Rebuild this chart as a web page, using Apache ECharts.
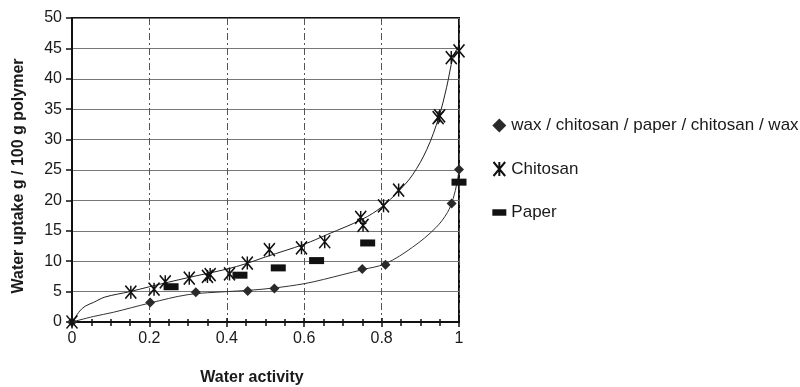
<!DOCTYPE html>
<html>
<head>
<meta charset="utf-8">
<script src="https://cdn.jsdelivr.net/npm/echarts@6/dist/echarts.min.js"></script>
<style>
html,body{margin:0;padding:0;background:#fff;}
#c{width:800px;height:387px;}
</style>
</head>
<body>
<div id="c"></div>
<script>
// ---- data ----
var seriesNames = ['wax / chitosan / paper / chitosan / wax', 'Chitosan', 'Paper'];
var xTicks = [0, 0.2, 0.4, 0.6, 0.8, 1];
var yTicks = [0, 5, 10, 15, 20, 25, 30, 35, 40, 45, 50];

var waxPoints = [[0,0],[0.202,3.2],[0.32,4.9],[0.454,5.1],[0.523,5.5],[0.75,8.7],[0.81,9.4],[0.981,19.5],[1.0,25.1]];
var chitosanPoints = [[0,0],[0.152,4.9],[0.212,5.4],[0.241,6.6],[0.303,7.2],[0.350,7.5],[0.357,7.8],[0.407,7.9],[0.453,9.7],[0.510,11.9],[0.593,12.2],[0.653,13.2],[0.746,17.2],[0.752,15.9],[0.805,19.1],[0.844,21.7],[0.946,33.6],[0.950,33.9],[0.980,43.5],[1.0,44.6]];
var paperPoints = [[0.256,5.8],[0.434,7.7],[0.533,8.9],[0.632,10.1],[0.764,13.0],[1.0,23.0]];

// fitted curves
var chitosanFit = [[0,0],[0.02,1.8],[0.034,2.6],[0.055,3.2],[0.085,4.1],[0.15,5.0],[0.2,5.8],[0.3,7.3],[0.4,8.7],[0.45,9.6],[0.5,10.7],[0.6,12.8],[0.66,14.4],[0.75,16.9],[0.8,18.9],[0.845,21.6],[0.88,24.2],[0.917,28.4],[0.948,33.7],[0.968,38.6],[0.985,43.6],[1.0,45.5]];
var waxFit = [[0,0],[0.055,0.9],[0.107,1.6],[0.2,3.1],[0.3,4.5],[0.4,5.0],[0.454,5.2],[0.523,5.6],[0.6,6.3],[0.65,7.0],[0.7,7.8],[0.75,8.6],[0.81,9.6],[0.88,12.3],[0.94,15.5],[0.97,18.0],[0.985,20.3],[0.995,23.0],[1.0,25.0]];

var asterisk = 'path://M0,0L10,12M10,0L0,12M5,0L5,12';
var paperIcon = 'path://M0,0L13,0L13,6L0,6Z';

var chart = echarts.init(document.getElementById('c'), null, {renderer: 'canvas'});
var FONT = 'Liberation Sans, Arial, sans-serif';

chart.setOption({
  animation: false,
  backgroundColor: '#fff',
  grid: {left: 72, right: 341, top: 18, bottom: 65, show: true, borderColor: '#111', borderWidth: 2, backgroundColor: 'transparent'},
  legend: {
    orient: 'vertical', left: 486, top: 112, itemWidth: 14, itemHeight: 14, itemGap: 25.5, itemTextGap: 6,
    textStyle: {fontFamily: FONT, fontSize: 17, color: '#1a1a1a'},
    data: [
      {name: seriesNames[0], icon: 'diamond'},
      {name: seriesNames[1], icon: asterisk},
      {name: seriesNames[2], icon: paperIcon}
    ]
  },
  xAxis: [{
    type: 'value', min: xTicks[0], max: xTicks[xTicks.length - 1], interval: 0.2,
    axisLine: {show: true, onZero: false, lineStyle: {color: '#111', width: 2}},
    axisTick: {show: true, inside: false, length: 5, lineStyle: {color: '#111', width: 1.5}},
    minorTick: {show: true, splitNumber: 4, length: 4, lineStyle: {color: '#111', width: 1.5}},
    axisLabel: {margin: 9, fontFamily: FONT, fontSize: 16, color: '#1a1a1a'},
    splitLine: {show: true, lineStyle: {color: '#555', width: 1, type: [7, 3, 2, 3]}}
  }, {
    type: 'value', min: xTicks[0], max: xTicks[xTicks.length - 1], interval: 0.2, position: 'bottom',
    axisLine: {show: false},
    axisTick: {show: true, inside: true, length: 4, lineStyle: {color: '#111', width: 1.5}},
    minorTick: {show: true, splitNumber: 4, length: 3, lineStyle: {color: '#111', width: 1.5}},
    axisLabel: {show: false}, splitLine: {show: false}
  }],
  yAxis: {
    type: 'value', min: yTicks[0], max: yTicks[yTicks.length - 1], interval: 5,
    axisLine: {show: true, onZero: false, lineStyle: {color: '#111', width: 2}},
    axisTick: {show: true, inside: false, length: 6, lineStyle: {color: '#111', width: 1.5}},
    axisLabel: {margin: 10, fontFamily: FONT, fontSize: 16, color: '#1a1a1a'},
    splitLine: {show: true, lineStyle: {color: '#777', width: 1}}
  },
  graphic: [
    {type: 'text', x: 19, y: 176, rotation: Math.PI / 2, style: {text: 'Water uptake g / 100 g polymer', font: 'bold 16px Liberation Sans, Arial, sans-serif', fill: '#1a1a1a', align: 'center', verticalAlign: 'middle'}},
    {type: 'text', x: 252, y: 378, style: {text: 'Water activity', font: 'bold 16px Liberation Sans, Arial, sans-serif', fill: '#1a1a1a', align: 'center', verticalAlign: 'middle'}}
  ],
  series: [
    {name: 'chitosanFit', type: 'line', data: chitosanFit, smooth: 0.35, showSymbol: false, silent: true, z: 2,
     lineStyle: {color: '#222', width: 1}},
    {name: 'waxFit', type: 'line', data: waxFit, smooth: 0.35, showSymbol: false, silent: true, z: 2,
     lineStyle: {color: '#333', width: 1}},
    {name: seriesNames[0], type: 'scatter', data: waxPoints, symbol: 'diamond', symbolSize: 10, z: 3,
     itemStyle: {color: '#2a2a2a', opacity: 1}},
    {name: seriesNames[1], type: 'scatter', data: chitosanPoints, symbol: asterisk, symbolSize: [11, 13], z: 4,
     itemStyle: {color: 'none', borderColor: '#111', borderWidth: 1.6, opacity: 1}},
    {name: seriesNames[2], type: 'scatter', data: paperPoints, symbol: 'rect', symbolSize: [15, 7], z: 4,
     itemStyle: {color: '#111', opacity: 1}}
  ]
});
</script>
</body>
</html>
